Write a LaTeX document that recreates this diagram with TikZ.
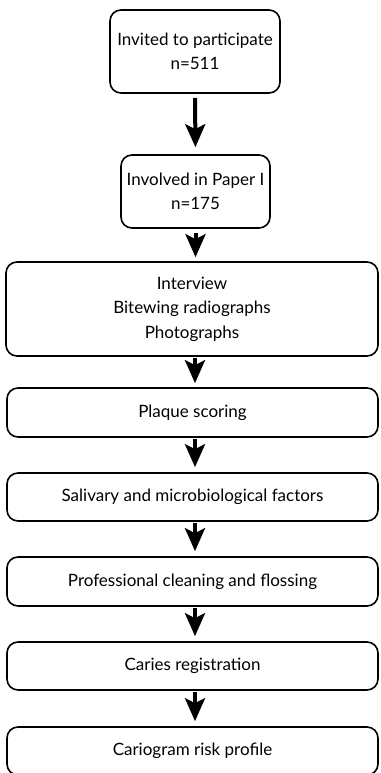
\documentclass[tikz,border=0pt]{standalone}
\usepackage{fontspec}
\setmainfont{Lato}
\usetikzlibrary{arrows.meta}

\begin{document}
\begin{tikzpicture}[x=1pt,y=-1pt,
  box/.style={draw, line width=1.6pt, rounded corners=11pt, align=center, inner sep=0pt, font=\fontsize{17}{24.5}\selectfont},
  flow/.style={draw, line width=4pt, -{Stealth[length=23pt,width=20pt,inset=5pt]}}]
\useasboundingbox (0,0) rectangle (380,773);
\clip (0,0) rectangle (380,773);

\node[box, minimum width=170pt, minimum height=83pt] (invited) at (195,51.5) {Invited to participate\\n=511};
\node[box, minimum width=149pt, minimum height=73pt] (paper) at (195.5,191.5) {Involved in Paper I\\n=175};
\node[box, minimum width=372pt, minimum height=94pt] (interview) at (192,309) {Interview\\Bitewing radiographs\\Photographs};
\node[box, minimum width=371pt, minimum height=49pt] (plaque) at (192.5,412.5) {Plaque scoring};
\node[box, minimum width=371pt, minimum height=48pt] (saliva) at (192.5,497) {Salivary and microbiological factors};
\node[box, minimum width=371pt, minimum height=49pt] (cleaning) at (192.5,581.5) {Professional cleaning and flossing};
\node[box, minimum width=371pt, minimum height=48pt] (caries) at (192.5,666) {Caries registration};
\node[box, minimum width=371pt, minimum height=48pt] (profile) at (192.5,751) {Cariogram risk profile};

\path[flow, shorten <=4pt, shorten >=7pt] (invited.south) -- (paper.north);
\path[flow, shorten <=4pt, shorten >=4pt] (paper.south) -- (interview.north -| paper.south);
\path[flow, shorten <=1pt, shorten >=4pt] (interview.south -| invited.south) -- (plaque.north -| invited.south);
\path[flow, shorten <=1pt, shorten >=5pt] (plaque.south -| invited.south) -- (saliva.north -| invited.south);
\path[flow, shorten <=1pt, shorten >=5pt] (saliva.south -| invited.south) -- (cleaning.north -| invited.south);
\path[flow, shorten <=1pt, shorten >=5pt] (cleaning.south -| invited.south) -- (caries.north -| invited.south);
\path[flow, shorten <=1pt, shorten >=5pt] (caries.south -| invited.south) -- (profile.north -| invited.south);
\end{tikzpicture}
\end{document}
